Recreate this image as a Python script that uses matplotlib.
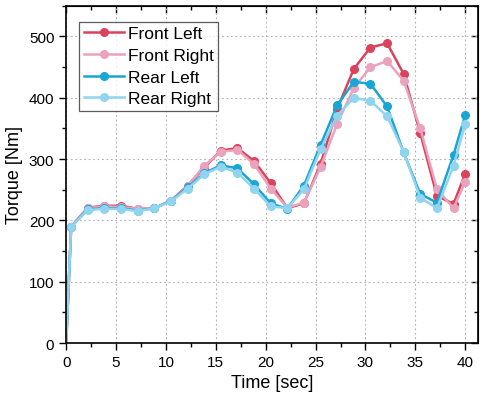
import numpy as np
import matplotlib
matplotlib.use("Agg")
import matplotlib.pyplot as plt
from matplotlib.ticker import MultipleLocator

plt.rcParams['font.family'] = ['Liberation Sans', 'DejaVu Sans']

# sample times (first point at t=0 has no marker)
time = [0, 0.5, 2.17, 3.83, 5.5, 7.17, 8.83, 10.5, 12.17, 13.83, 15.5, 17.17,
        18.83, 20.5, 22.17, 23.83, 25.5, 27.17, 28.83, 30.5, 32.17, 33.83,
        35.5, 37.17, 38.83, 40.0]

front_left = [0, 190, 221, 224, 224, 219, 220, 232, 257, 286, 314, 318,
              297, 261, 220, 228, 292, 382, 447, 482, 489, 439,
              342, 240, 227, 276]
front_right = [0, 190, 220, 223, 222, 219, 220, 232, 256, 289, 312, 315,
               292, 252, 221, 229, 287, 358, 416, 450, 460, 428,
               350, 251, 220, 263]
rear_left = [0, 190, 218, 220, 220, 216, 220, 232, 254, 277, 290, 285,
             259, 228, 219, 257, 323, 388, 426, 423, 386, 311,
             243, 229, 307, 372]
rear_right = [0, 190, 217, 219, 219, 215, 220, 231, 252, 275, 288, 278,
              252, 223, 220, 251, 316, 371, 400, 395, 370, 312,
              237, 220, 289, 357]

series = [("Front Left", front_left, "#d9435c"),
          ("Front Right", front_right, "#eba3bd"),
          ("Rear Left", rear_left, "#1aa6d4"),
          ("Rear Right", rear_right, "#90d4f0")]

fig = plt.figure(figsize=(4.83, 4.02), dpi=100)
ax = fig.add_axes([0.137, 0.144, 0.853, 0.839])

for name, vals, col in series:
    ax.plot(time, vals, color=col, lw=1.8, marker="o", ms=5.5,
            markevery=list(range(1, len(time))), label=name)

ax.set_xlim(0, 41.3)
ax.set_ylim(0, 550)
ax.xaxis.set_major_locator(MultipleLocator(5))
ax.xaxis.set_minor_locator(MultipleLocator(2.5))
ax.yaxis.set_major_locator(MultipleLocator(100))
ax.yaxis.set_minor_locator(MultipleLocator(50))
ax.tick_params(which="both", direction="out", labelsize=11, width=1)
ax.tick_params(which="major", length=5)
ax.tick_params(which="minor", length=3)

# inward ticks on top and right
for side in ("top", "right"):
    sec = ax.secondary_xaxis("top") if side == "top" else ax.secondary_yaxis("right")
    axis = sec.xaxis if side == "top" else sec.yaxis
    axis.set_major_locator(MultipleLocator(5 if side == "top" else 100))
    axis.set_minor_locator(MultipleLocator(2.5 if side == "top" else 50))
    sec.tick_params(which="both", direction="in", labelsize=0, width=1)
    sec.tick_params(which="major", length=5)
    sec.tick_params(which="minor", length=3)
    axis.set_ticklabels([])

ax.grid(True, which="major", ls=(0, (1.5, 2.5)), color="#b0b0b0", lw=0.8)
for s in ax.spines.values():
    s.set_linewidth(1.2)

ax.set_xlabel("Time [sec]", fontsize=13)
ax.set_ylabel("Torque [Nm]", fontsize=13)

leg = ax.legend(loc="upper left", bbox_to_anchor=(0.032, 0.953), fontsize=12.5,
                frameon=True, fancybox=False, edgecolor="#333333",
                handlelength=2.3, borderpad=0.25, labelspacing=0.38,
                handletextpad=0.25, borderaxespad=0.0)
leg.get_frame().set_linewidth(0.9)

fig.savefig("out.png", dpi=100)
